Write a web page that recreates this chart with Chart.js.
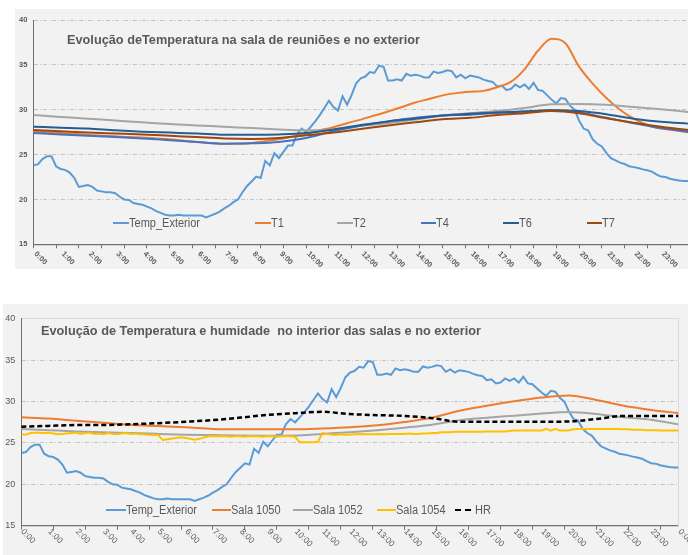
<!DOCTYPE html>
<html><head><meta charset="utf-8">
<script src="https://cdn.jsdelivr.net/npm/chart.js@4.4.1/dist/chart.umd.min.js"></script>
<style>
html,body{margin:0;padding:0;overflow:hidden;background:#fff;width:688px;height:555px;}
.panel{position:absolute;background:#f2f2f2;}
canvas{position:absolute;}
.title{position:absolute;font-family:'Liberation Sans',Arial,sans-serif;font-weight:bold;color:#595959;white-space:pre;transform-origin:0 50%;line-height:1;}
.leg{position:absolute;display:flex;align-items:center;white-space:pre;line-height:1;}
.leg .sw{display:inline-block;height:2px;flex:none;}
.leg .tx{display:inline-block;font-family:'Liberation Sans Narrow','Liberation Sans',Arial,sans-serif;font-size:12.5px;color:#595959;transform-origin:0 50%;}
</style></head><body>
<div class="panel" style="left:15px;top:9px;width:690px;height:260px"></div>
<div class="panel" style="left:3px;top:304px;width:700px;height:251px"></div>
<canvas id="c1" width="700" height="260" style="left:15px;top:9px"></canvas>
<canvas id="c2" width="720" height="251" style="left:3px;top:304px"></canvas>
<script>
// ---------------- DATA ----------------
const tickLabels = ['0:00','1:00','2:00','3:00','4:00','5:00','6:00','7:00','8:00','9:00','10:00','11:00',
  '12:00','13:00','14:00','15:00','16:00','17:00','18:00','19:00','20:00','21:00','22:00','23:00','0:00'];

// exterior temperature, one value every 10 minutes (0:00 .. 24:00)
const tempExterior = [
 23.8,23.9,24.5,24.8,24.8,23.7, 23.4,23.3,23.0,22.4,21.4,21.5, 21.6,21.4,21.0,20.9,20.8,20.8,
 20.7,20.3,20.0,19.95,19.6,19.5, 19.4,19.2,19.0,18.7,18.5,18.3, 18.2,18.2,18.3,18.2,18.2,18.2,
 18.2,18.2,18.0,18.2,18.4,18.65, 19.0,19.3,19.7,20.0,20.8,21.5, 22.0,22.55,22.4,24.3,23.8,25.15,
 24.6,25.3,26.0,26.0,27.3,27.9, 27.5,28.1,28.7,29.4,30.2,31.0, 30.3,29.9,31.5,30.55,31.65,32.95,
 33.5,33.7,34.2,34.1,34.9,34.8, 33.25,33.25,33.4,33.25,34.0,33.8, 33.9,33.8,33.6,33.6,34.25,34.1,
 34.2,34.4,34.3,33.6,33.9,33.5, 33.8,33.7,33.6,33.35,33.2,33.1, 32.6,32.7,32.2,32.3,32.8,32.5,
 32.8,32.3,33.0,32.2,32.1,31.6, 31.1,30.7,31.3,31.2,30.45,30.0, 28.8,27.9,27.7,26.7,26.2,25.9,
 25.2,24.6,24.35,24.1,23.95,23.7, 23.6,23.5,23.35,23.25,23.1,22.8, 22.55,22.5,22.3,22.2,22.1,22.05,
 22.05];

// meeting room sensors (top chart)
const t1 = [ // every 30 minutes
 27.6,27.5,27.4,27.3,27.2,27.1,27.05,26.95,26.9,26.8,26.7,26.55,26.4,26.3,26.2,26.2,26.3,26.5,26.7,27.0,
 27.35,27.7,28.05,28.5,28.9,29.35,29.8,30.3,30.8,31.2,31.6,31.85,32.0,32.1,32.5,33.1,34.5,36.6,37.9,37.4,
 34.8,32.9,31.3,30.0,29.0,28.3,27.9,27.7,27.5];
const t2 = [29.4,29.2,29.0,28.8,28.6,28.4,28.25,28.1,27.95,27.8,27.7,27.8,28.2,28.5,28.9,29.35,29.6,29.85,30.2,30.6,30.65,30.55,30.3,30.05,29.75]; // hourly
const t4 = [27.4,27.25,27.1,26.95,26.8,26.6,26.4,26.2,26.25,26.4,26.85,27.6,28.2,28.7,29.1,29.35,29.45,29.65,29.8,29.95,29.7,29.1,28.5,27.95,27.55];
const t6 = [28.1,28.0,27.9,27.7,27.55,27.45,27.35,27.2,27.2,27.25,27.4,27.8,28.3,28.7,29.0,29.35,29.55,29.7,29.8,29.95,29.85,29.5,29.0,28.65,28.45];
const t7 = [27.75,27.6,27.45,27.35,27.25,27.1,26.95,26.8,26.75,26.85,27.15,27.45,27.85,28.25,28.6,28.95,29.1,29.4,29.6,29.85,29.6,29.05,28.55,28.1,27.75];

// rooms (bottom chart)
const sala1050 = [28.1,27.95,27.7,27.45,27.2,27.05,26.9,26.7,26.65,26.65,26.65,26.75,26.9,27.15,27.55,28.05,28.9,29.5,30.05,30.5,30.75,30.2,29.5,29.0,28.6]; // hourly
const sala1052 = [26.7,26.55,26.4,26.3,26.2,26.1,26.0,25.95,25.9,25.88,25.9,26.1,26.3,26.55,26.85,27.2,27.75,28.05,28.3,28.55,28.75,28.5,28.1,27.8,27.25]; // hourly
const sala1054 = [ // every 10 minutes
 26.05,26.0,26.2,26.25,26.25,26.2, 26.25,26.15,26.05,26.1,26.15,26.2, 26.25,26.1,26.2,26.25,26.1,26.15,
 26.05,26.2,26.1,26.05,26.15,26.2, 26.1,26.15,26.05,26.05,26.0,25.95, 25.95,25.35,25.45,25.55,25.6,25.7,
 25.6,25.5,25.4,25.5,25.65,25.8, 25.85,25.8,25.85,25.8,25.75,25.85, 25.8,25.75,25.85,25.8,25.8,25.75,
 25.85,25.8,25.75,25.8,25.85,25.8, 25.75,25.1,25.1,25.1,25.1,25.15, 26.2,26.1,26.0,26.0,26.05,26.0,
 26.0,26.05,26.1,26.05,26.05,26.05, 26.05,26.1,26.05,26.1,26.1,26.1, 26.1,26.15,26.1,26.1,26.15,26.15,
 26.2,26.2,26.3,26.3,26.3,26.35, 26.35,26.35,26.35,26.35,26.35,26.35, 26.4,26.4,26.4,26.4,26.4,26.45,
 26.5,26.5,26.5,26.55,26.5,26.5, 26.5,26.7,26.5,26.7,26.5,26.5, 26.55,26.65,26.7,26.7,26.7,26.7,
 26.7,26.7,26.7,26.7,26.7,26.7, 26.65,26.65,26.6,26.6,26.6,26.55, 26.55,26.55,26.5,26.5,26.5,26.5,
 26.5];
const hr = [60.9,61.2,61.5,61.5,61.8,62.2,62.7,63.3,64.2,65.2,65.8,66.3,65.5,65.1,64.8,64.0,62.7,62.7,62.7,62.7,62.8,63.7,64.8,64.8,64.8]; // hourly, % (right axis)

const topNames = ['Temp_Exterior','T1','T2','T4','T6','T7'];
const bottomNames = ['Temp_Exterior','Sala 1050','Sala 1052','Sala 1054','HR'];
const titleTop = 'Evolução deTemperatura na sala de reuniões e no exterior';
const titleBottom = 'Evolução de Temperatura e humidade  no interior das salas e no exterior';

// ---------------- HELPERS ----------------
const GRAY = '#595959';
function pts(arr, step){ return arr.map((v,i)=>({x:i*step, y:v})); }
function ds(label, data, color, extra){
  return Object.assign({label, data, borderColor:color, backgroundColor:color, borderWidth:2,
    pointRadius:0, pointHoverRadius:0, fill:false, tension:0}, extra||{});
}
const smooth = {cubicInterpolationMode:'monotone'};
function xScale(every, h){
  return {type:'linear', min:0, max:144, position:'bottom',
    ticks:{display:false, stepSize:1},
    grid:{display:true, drawOnChartArea:false, drawTicks:true, tickLength:4, tickWidth:1,
      color:'rgba(0,0,0,0)',
      tickColor:(c)=> (c.tick && Math.round(c.tick.value)%every===0) ? '#707070' : 'rgba(0,0,0,0)'},
    border:{display:true, color:'#707070', width:1.2},
    afterFit:(s)=>{ s.height=h; }};
}
function yScale(font, w){
  return {type:'linear', min:15, max:40, position:'left',
    ticks:{stepSize:5, color:GRAY, font, padding:6},
    grid:{color:'#c4c4c4', lineWidth:1, drawTicks:false},
    border:{display:true, color:'#707070', width:1, dash:[4,2,1,2]},
    afterFit:(s)=>{ s.width=w; }};
}
function rotLabels(font, dx, dy){
  return {id:'rotLabels', afterDraw(chart){
    const xs=chart.scales.x, ctx=chart.ctx;
    ctx.save(); ctx.font=font; ctx.fillStyle=GRAY; ctx.textAlign='left'; ctx.textBaseline='middle';
    tickLabels.forEach((t,i)=>{
      const px=xs.getPixelForValue(i*6);
      ctx.save(); ctx.translate(px+dx, xs.top+dy); ctx.rotate(Math.PI/4); ctx.fillText(t,0,0); ctx.restore();
    });
    ctx.restore();
  }};
}

// ---------------- TOP CHART ----------------
const topColors = ['#5B9BD5','#ED7D31','#A5A5A5','#4472C4','#255E91','#9E480E'];
const topData = [pts(tempExterior,1), pts(t1,3), pts(t2,6), pts(t4,6), pts(t6,6), pts(t7,6)];
const chart1 = new Chart(document.getElementById('c1'), {
  type:'line',
  data:{datasets: topNames.map((n,i)=>ds(n, topData[i], topColors[i], Object.assign({order:-i}, i===0?{}:smooth)))},
  options:{responsive:false, animation:false, devicePixelRatio:1, parsing:true,
    layout:{padding:{top:11, right:26.8, left:0, bottom:0}},
    plugins:{legend:{display:false}, tooltip:{enabled:false}},
    scales:{x:xScale(5, 24.7), y:yScale({family:'Liberation Sans', size:7.5, weight:'bold'}, 18.3)}},
  plugins:[rotLabels('bold 7.5px "Liberation Sans"', 2, 8.5)]
});

// ---------------- BOTTOM CHART ----------------
const botColors = ['#5B9BD5','#ED7D31','#A5A5A5','#FFC000','#000000'];
const botData = [pts(tempExterior,1), pts(sala1050,6), pts(sala1052,6), pts(sala1054,1), pts(hr,6)];
const chart2 = new Chart(document.getElementById('c2'), {
  type:'line',
  data:{datasets: bottomNames.map((n,i)=>{
    const extra = {order:-i};
    if (i===1||i===2) Object.assign(extra, smooth);
    if (i===4) Object.assign(extra, smooth, {yAxisID:'y2', borderDash:[5,3], borderWidth:2.5});
    return ds(n, botData[i], botColors[i], extra);
  })},
  options:{responsive:false, animation:false, devicePixelRatio:1,
    layout:{padding:{top:7.7, right:0, left:0, bottom:0}},
    plugins:{legend:{display:false}, tooltip:{enabled:false}},
    scales:{
      x:xScale(7, 29.3),
      x2:{type:'linear', position:'top', min:0, max:144, display:true,
        ticks:{display:false}, grid:{display:false, drawTicks:false},
        border:{display:true, color:'#d9d9d9', width:1}, afterFit:(s)=>{ s.height=0; }},
      y:yScale({family:'Liberation Sans', size:9}, 18.3),
      y2:{type:'linear', position:'right', min:25, max:100,
        ticks:{stepSize:5, color:GRAY, font:{family:'Liberation Sans', size:9}, padding:9.5},
        grid:{drawOnChartArea:false, drawTicks:false},
        border:{display:true, color:'#d9d9d9', width:1},
        afterFit:(s)=>{ s.width=44.5; }}
    }},
  plugins:[rotLabels('8.5px "Liberation Sans"', 0.8, 4.7)]
});

// ---------------- TITLES & LEGENDS (HTML text) ----------------
function addTitle(text, left, cy, size, target){
  const d=document.createElement('div'); d.className='title'; d.textContent=text;
  d.style.fontSize=size+'px'; d.style.left=left+'px'; document.body.appendChild(d);
  const r=d.getBoundingClientRect();
  d.style.top=(cy-r.height/2)+'px';
  d.style.transform='scaleX('+(target/r.width)+')';
}
addTitle(titleTop, 67.3, 40, 12, 353);
addTitle(titleBottom, 40.7, 331, 13.5, 440);

function addLegend(chart, xs, cy, swW, firstTarget){
  const spans=[];
  chart.data.datasets.forEach((d,i)=>{
    const item=document.createElement('div'); item.className='leg'; item.style.left=xs[i]+'px';
    const sw=document.createElement('span'); sw.className='sw'; sw.style.width=swW+'px';
    if (d.borderDash) { sw.style.height='2.5px'; sw.style.background='repeating-linear-gradient(to right,'+d.borderColor+' 0 6px,transparent 6px 10px)'; }
    else sw.style.background=d.borderColor;
    const tx=document.createElement('span'); tx.className='tx'; tx.textContent=d.label;
    item.appendChild(sw); item.appendChild(tx); document.body.appendChild(item);
    spans.push([item,tx]);
  });
  const k = firstTarget / spans[0][1].getBoundingClientRect().width;
  spans.forEach(([item,tx])=>{
    tx.style.transform='scaleX('+k+')';
    const r=item.getBoundingClientRect(); item.style.top=(cy-r.height/2)+'px';
  });
}
addLegend(chart1, [113.3,255,337,420.7,503.3,586.7], 223.3, 15.5, 71);
addLegend(chart2, [106.3,211.7,293.3,376.7,455], 510.2, 19.5, 71);
</script>
</body></html>
